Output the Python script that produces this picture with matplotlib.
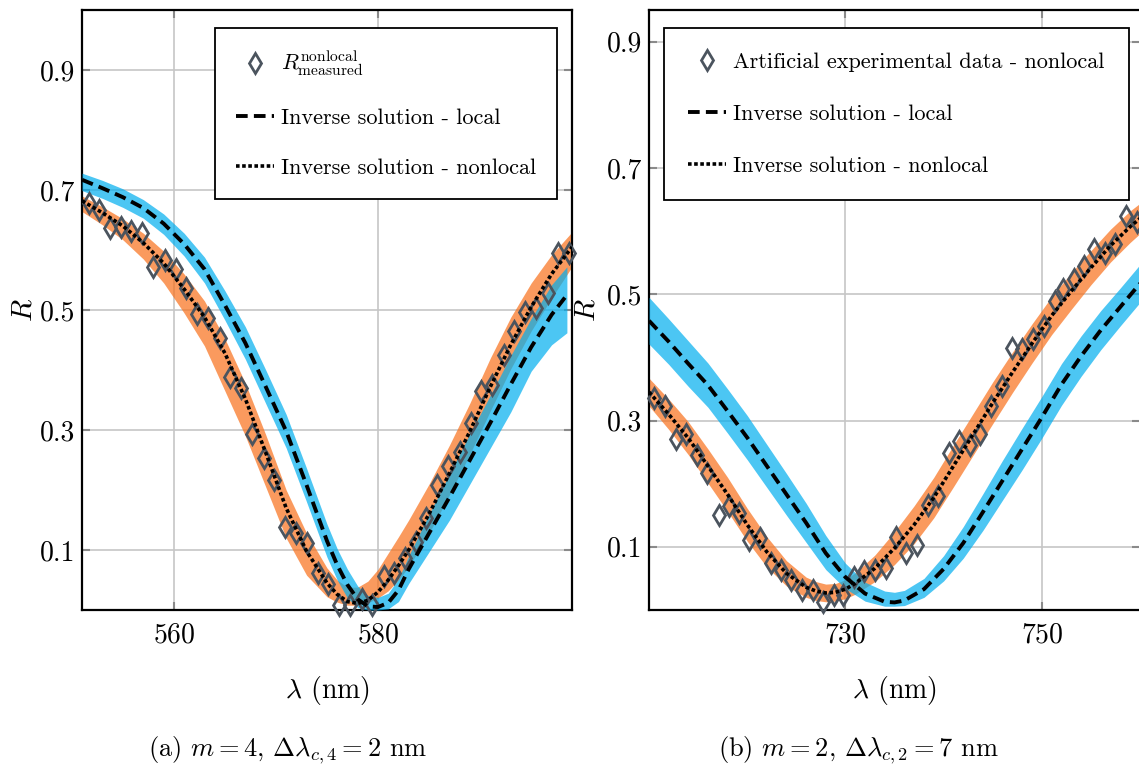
import numpy as np
import matplotlib
matplotlib.use("Agg")
import matplotlib.pyplot as plt

plt.rcParams["font.family"] = ["cmr10", "DejaVu Serif"]
plt.rcParams["mathtext.fontset"] = "cm"
plt.rcParams["axes.formatter.use_mathtext"] = True

ORANGE = "#F8701A"
BLUE = "#00AEEF"
GREY = "#4B545E"

# ---- panel (a): m = 4 ----
lam_a = [551, 553, 555, 557, 559, 561, 563, 565, 567, 569, 571, 573, 575, 576, 577,
         578, 579, 580, 581, 582, 583, 585, 587, 589, 591, 593, 595, 597, 599]
nl_fit_a = [0.682, 0.662, 0.640, 0.612, 0.578, 0.535, 0.488, 0.428, 0.352, 0.262, 0.170,
            0.098, 0.045, 0.026, 0.014, 0.011, 0.016, 0.030, 0.050, 0.074, 0.100, 0.160,
            0.228, 0.298, 0.372, 0.442, 0.505, 0.560, 0.605]
nl_lo_a = [0.664, 0.642, 0.617, 0.585, 0.545, 0.495, 0.440, 0.365, 0.290, 0.205, 0.120,
           0.058, 0.022, 0.013, 0.008, 0.008, 0.012, 0.020, 0.032, 0.050, 0.072, 0.128,
           0.192, 0.260, 0.332, 0.402, 0.465, 0.520, 0.572]
nl_hi_a = [0.690, 0.672, 0.652, 0.628, 0.598, 0.560, 0.515, 0.452, 0.378, 0.292, 0.200,
           0.128, 0.070, 0.050, 0.038, 0.038, 0.048, 0.068, 0.095, 0.122, 0.150, 0.210,
           0.275, 0.345, 0.420, 0.488, 0.545, 0.592, 0.630]

lam_loc_a = [551, 553, 555, 557, 559, 561, 563, 565, 567, 569, 571, 573, 575, 576, 577,
             578, 579, 580, 581, 582, 583, 585, 587, 589, 591, 593, 595, 597, 598.5]
loc_fit_a = [0.717, 0.703, 0.688, 0.670, 0.644, 0.610, 0.568, 0.508, 0.445, 0.372, 0.298,
             0.208, 0.115, 0.075, 0.042, 0.018, 0.006, 0.005, 0.012, 0.033, 0.068, 0.128,
             0.188, 0.250, 0.312, 0.376, 0.438, 0.492, 0.525]
loc_lo_a = [0.699, 0.686, 0.671, 0.653, 0.626, 0.590, 0.545, 0.483, 0.418, 0.344, 0.270,
            0.180, 0.088, 0.050, 0.020, 0.004, 0.000, 0.000, 0.002, 0.014, 0.044, 0.097,
            0.150, 0.210, 0.270, 0.330, 0.398, 0.442, 0.462]
loc_hi_a = [0.728, 0.716, 0.702, 0.684, 0.660, 0.628, 0.588, 0.532, 0.472, 0.400, 0.326,
            0.236, 0.143, 0.102, 0.068, 0.040, 0.024, 0.021, 0.028, 0.052, 0.090, 0.160,
            0.227, 0.294, 0.358, 0.424, 0.486, 0.542, 0.572]

meas_lam_a = [551.7, 552.7, 553.75, 554.8, 555.8, 556.9, 558.0, 559.1, 560.2, 561.2,
              562.3, 563.3, 564.5, 565.5, 566.6, 567.7, 568.8, 569.8, 570.9, 572.0,
              573.0, 574.1, 575.1, 576.2, 577.3, 578.4, 579.4, 580.6, 581.6, 582.6,
              583.7, 584.7, 585.8, 586.9, 588.0, 589.1, 590.1, 591.2, 592.3, 593.3,
              594.4, 595.5, 596.6, 597.6, 598.7]
meas_r_a = [0.678, 0.667, 0.636, 0.639, 0.631, 0.628, 0.572, 0.583, 0.569, 0.536,
            0.494, 0.486, 0.453, 0.389, 0.370, 0.294, 0.253, 0.217, 0.139, 0.128,
            0.111, 0.061, 0.044, 0.008, 0.008, 0.019, 0.008, 0.056, 0.061, 0.086,
            0.114, 0.153, 0.208, 0.240, 0.264, 0.312, 0.365, 0.375, 0.425, 0.465,
            0.497, 0.504, 0.528, 0.595, 0.595]

# ---- panel (b): m = 2 ----
lam_b = [710, 712, 714, 716, 718, 720, 722, 724, 726, 727, 728, 729, 730, 731, 733,
         735, 737, 739, 741, 743, 745, 747, 749, 751, 753, 755, 757, 759, 760]
nl_fit_b = [0.345, 0.310, 0.272, 0.228, 0.183, 0.135, 0.092, 0.058, 0.036, 0.030, 0.027,
            0.028, 0.033, 0.042, 0.066, 0.098, 0.135, 0.178, 0.228, 0.278, 0.328, 0.376,
            0.422, 0.466, 0.505, 0.542, 0.577, 0.607, 0.620]
nl_lo_b = [0.323, 0.286, 0.246, 0.201, 0.156, 0.109, 0.068, 0.038, 0.020, 0.015, 0.013,
           0.014, 0.018, 0.025, 0.045, 0.072, 0.105, 0.146, 0.195, 0.245, 0.295, 0.344,
           0.391, 0.436, 0.476, 0.515, 0.551, 0.582, 0.596]
nl_hi_b = [0.367, 0.334, 0.298, 0.255, 0.210, 0.161, 0.116, 0.078, 0.052, 0.045, 0.041,
           0.042, 0.048, 0.059, 0.087, 0.124, 0.165, 0.210, 0.261, 0.311, 0.361, 0.408,
           0.453, 0.496, 0.534, 0.569, 0.603, 0.632, 0.644]

lam_loc_b = [710, 712, 714, 716, 718, 720, 722, 724, 726, 728, 730, 732, 734, 735, 736,
             738, 740, 742, 744, 746, 748, 750, 752, 754, 756, 758, 760]
loc_fit_b = [0.458, 0.425, 0.390, 0.356, 0.315, 0.273, 0.228, 0.183, 0.138, 0.090, 0.052,
             0.026, 0.013, 0.012, 0.015, 0.033, 0.065, 0.106, 0.155, 0.205, 0.255, 0.305,
             0.357, 0.402, 0.443, 0.480, 0.517]
loc_lo_b = [0.421, 0.389, 0.354, 0.321, 0.280, 0.238, 0.194, 0.150, 0.107, 0.064, 0.034,
            0.014, 0.006, 0.006, 0.007, 0.020, 0.046, 0.082, 0.126, 0.174, 0.222, 0.272,
            0.324, 0.370, 0.412, 0.450, 0.487]
loc_hi_b = [0.495, 0.461, 0.426, 0.391, 0.350, 0.308, 0.262, 0.216, 0.169, 0.118, 0.074,
            0.044, 0.030, 0.028, 0.031, 0.050, 0.086, 0.132, 0.184, 0.237, 0.288, 0.338,
            0.390, 0.434, 0.474, 0.510, 0.547]

meas_lam_b = [710.5, 711.6, 712.7, 713.8, 714.9, 715.9, 717.1, 718.1, 719.2, 720.2,
              721.3, 722.4, 723.4, 724.5, 725.6, 726.7, 727.7, 728.8, 729.8, 730.9,
              731.9, 733.0, 734.1, 735.2, 736.2, 737.3, 738.4, 739.4, 740.5, 741.6,
              742.7, 743.7, 744.8, 745.9, 747.0, 748.0, 749.1, 750.2, 751.3, 752.2,
              753.3, 754.3, 755.3, 756.4, 757.5, 758.6, 759.7]
meas_r_b = [0.336, 0.323, 0.270, 0.278, 0.246, 0.217, 0.151, 0.164, 0.153, 0.111,
            0.114, 0.074, 0.063, 0.048, 0.032, 0.032, 0.013, 0.024, 0.024, 0.053,
            0.061, 0.063, 0.066, 0.116, 0.090, 0.103, 0.167, 0.180, 0.249, 0.267,
            0.262, 0.278, 0.323, 0.354, 0.415, 0.413, 0.429, 0.450, 0.489, 0.508,
            0.524, 0.545, 0.571, 0.566, 0.579, 0.624, 0.614]

y_ticks = [0.1, 0.3, 0.5, 0.7, 0.9]


def draw_panel(ax, lam, nl_lo, nl_hi, nl_fit, lam_loc, loc_lo, loc_hi, loc_fit,
               meas_lam, meas_r, meas_label):
    ax.fill_between(lam, nl_lo, nl_hi, color=ORANGE, alpha=0.7, lw=0, zorder=2)
    ax.fill_between(lam_loc, loc_lo, loc_hi, color=BLUE, alpha=0.7, lw=0, zorder=3)
    ax.plot(meas_lam, meas_r, ls="none", marker="d", ms=10.5, mfc="none", mec=GREY,
            mew=2.0, label=meas_label, zorder=4, clip_on=False)
    ax.plot(lam_loc, loc_fit, color="k", ls=(0, (3, 1.6)), lw=2.8,
            label="Inverse solution - local", zorder=5)
    ax.plot(lam, nl_fit, color="k", ls=(0, (1, 0.7)), lw=2.6,
            label="Inverse solution - nonlocal", zorder=5)

    ax.set_yticks(y_ticks)
    ax.set_yticklabels([f"{t:.1f}" for t in y_ticks])
    ax.grid(True, color="#c6c6c6", lw=1.2)
    ax.set_axisbelow(True)
    ax.tick_params(direction="in", top=True, right=True, length=6, width=1.5,
                   color="#8a8a8a", labelsize=20)
    ax.tick_params(axis="x", pad=9)
    ax.tick_params(axis="y", pad=5)
    for sp in ax.spines.values():
        sp.set_linewidth(1.6)
        sp.set_color("black")
    ax.set_xlabel(r"$\lambda$ (nm)", fontsize=20, va="center")
    ax.xaxis.set_label_coords(0.5, -0.135)
    ax.set_ylabel(r"$R$", fontsize=21, va="center")


def style_legend(ax, loc, anchor, pad, spacing):
    leg = ax.legend(loc=loc, bbox_to_anchor=anchor, borderaxespad=0, fontsize=16,
                    handlelength=1.7, handletextpad=0.3, labelspacing=spacing,
                    borderpad=pad, fancybox=False, framealpha=1, edgecolor="k")
    leg.get_frame().set_linewidth(1.3)
    return leg


fig = plt.figure(figsize=(11.39, 7.67), dpi=100)
ax1 = fig.add_axes([0.0720, 0.2047, 0.4302, 0.7823])
ax2 = fig.add_axes([0.5698, 0.2047, 0.4311, 0.7823])

draw_panel(ax1, lam_a, nl_lo_a, nl_hi_a, nl_fit_a, lam_loc_a, loc_lo_a, loc_hi_a, loc_fit_a,
           meas_lam_a, meas_r_a, r"$R^{\mathrm{nonlocal}}_{\mathrm{measured}}$")
ax1.set_xlim(551, 599)
ax1.set_ylim(0, 1.0)
ax1.set_xticks([560, 580])
ax1.yaxis.set_label_coords(-0.118, 0.5)

draw_panel(ax2, lam_b, nl_lo_b, nl_hi_b, nl_fit_b, lam_loc_b, loc_lo_b, loc_hi_b, loc_fit_b,
           meas_lam_b, meas_r_b, "Artificial experimental data - nonlocal")
ax2.set_xlim(710, 760)
ax2.set_ylim(0, 0.95)
ax2.set_xticks([730, 750])
ax2.yaxis.set_label_coords(-0.125, 0.5)

style_legend(ax1, "upper right", (0.969, 0.97), 0.95, 1.35)
style_legend(ax2, "upper left", (0.0305, 0.97), 1.1, 1.45)

fig.text(288 / 1139, 1 - 750 / 767, r"(a) $m = 4$, $\Delta\lambda_{c,4} = 2$ nm",
         ha="center", va="center", fontsize=19)
fig.text(858 / 1139, 1 - 750 / 767, r"(b) $m = 2$, $\Delta\lambda_{c,2} = 7$ nm",
         ha="center", va="center", fontsize=19)

fig.savefig("out.png", dpi=100)
